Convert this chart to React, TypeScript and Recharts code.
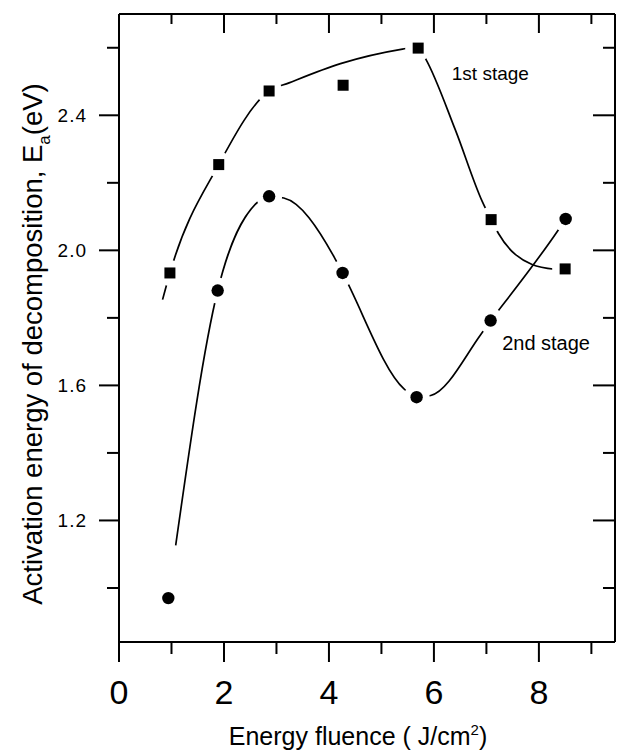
import React from "react";
import {
  ComposedChart,
  Line,
  Scatter,
  XAxis,
  YAxis,
  ReferenceDot,
} from "recharts";

// measured points
const stage1Points = [
  { x: 0.97, y: 1.933 },
  { x: 1.9, y: 2.254 },
  { x: 2.86, y: 2.472 },
  { x: 4.27, y: 2.489 },
  { x: 5.7, y: 2.599 },
  { x: 7.09, y: 2.091 },
  { x: 8.5, y: 1.945 },
];

const stage2Points = [
  { x: 0.94, y: 0.97 },
  { x: 1.88, y: 1.881 },
  { x: 2.86, y: 2.16 },
  { x: 4.26, y: 1.933 },
  { x: 5.67, y: 1.565 },
  { x: 7.08, y: 1.792 },
  { x: 8.51, y: 2.093 },
];

// hand drawn guide curves
const stage1Curve = [
  { x: 0.83, y: 1.854 },
  { x: 0.97, y: 1.933 },
  { x: 1.9, y: 2.254 },
  { x: 2.86, y: 2.472 },
  { x: 3.24, y: 2.496 },
  { x: 4.22, y: 2.553 },
  { x: 5.4, y: 2.596 },
  { x: 5.7, y: 2.603 },
  { x: 5.84, y: 2.568 },
  { x: 6.41, y: 2.356 },
  { x: 6.92, y: 2.145 },
  { x: 7.09, y: 2.091 },
  { x: 7.23, y: 2.05 },
  { x: 7.87, y: 1.958 },
  { x: 8.3, y: 1.944 },
];

const stage2Curve = [
  { x: 1.08, y: 1.126 },
  { x: 1.88, y: 1.881 },
  { x: 2.6, y: 2.137 },
  { x: 2.86, y: 2.16 },
  { x: 3.14, y: 2.155 },
  { x: 4.1, y: 1.98 },
  { x: 4.26, y: 1.933 },
  { x: 5.43, y: 1.59 },
  { x: 5.67, y: 1.565 },
  { x: 5.94, y: 1.57 },
  { x: 6.89, y: 1.75 },
  { x: 7.08, y: 1.792 },
  { x: 7.24, y: 1.824 },
  { x: 8.35, y: 2.056 },
  { x: 8.51, y: 2.093 },
];

const xTicks = [0, 1, 2, 3, 4, 5, 6, 7, 8, 9];
const yTicks = [1.0, 1.2, 1.4, 1.6, 1.8, 2.0, 2.2, 2.4, 2.6];

const annotations = [
  { x: 6.34, y: 2.505, text: "1st stage", size: 19 },
  { x: 7.3, y: 1.705, text: "2nd stage", size: 20 },
];

const FONT = "Arial, 'Liberation Sans', Helvetica, sans-serif";

const isMajorX = (v: number) => v % 2 === 0;
const isMajorY = (v: number) => Math.round(v * 10) % 4 === 0;

const BottomTick = (props: any) => {
  const { x, y, payload } = props;
  const major = isMajorX(payload.value);
  return (
    <g>
      <line x1={x} x2={x} y1={y} y2={y + (major ? 20 : 12)} stroke="#000" strokeWidth={2} />
      {major && (
        <text x={x} y={y + 62} textAnchor="middle" fontSize={34} fontFamily={FONT} fill="#000">
          {payload.value}
        </text>
      )}
    </g>
  );
};

const TopTick = (props: any) => {
  const { x, y, payload } = props;
  const major = isMajorX(payload.value);
  return <line x1={x} x2={x} y1={y} y2={y + (major ? 19 : 10)} stroke="#000" strokeWidth={2} />;
};

const LeftTick = (props: any) => {
  const { x, y, payload } = props;
  const major = isMajorY(payload.value);
  return (
    <g>
      <line x1={x - (major ? 20 : 12)} x2={x} y1={y} y2={y} stroke="#000" strokeWidth={2} />
      {major && (
        <text x={x - 32} y={y} dy="0.36em" textAnchor="end" fontSize={19} letterSpacing={1}
          fontFamily={FONT} fill="#000">
          {payload.value.toFixed(1)}
        </text>
      )}
    </g>
  );
};

const RightTick = (props: any) => {
  const { x, y, payload } = props;
  const major = isMajorY(payload.value);
  return <line x1={x - (major ? 22 : 12)} x2={x} y1={y} y2={y} stroke="#000" strokeWidth={2} />;
};

const XTitle = (props: any) => {
  const vb = props.viewBox;
  return (
    <text x={vb.x + vb.width / 2 - 9} y={vb.y + 103} textAnchor="middle" fontSize={25}
      fontFamily={FONT} fill="#000">
      Energy fluence ( J/cm
      <tspan dy={-10} fontSize={15}>2</tspan>
      <tspan dy={10}>)</tspan>
    </text>
  );
};

const YTitle = (props: any) => {
  const vb = props.viewBox;
  const cx = vb.x + 42;
  const cy = vb.y + vb.height / 2 + 16;
  return (
    <text x={cx} y={cy} transform={`rotate(-90, ${cx}, ${cy})`} textAnchor="middle"
      fontSize={27.5} fontFamily={FONT} fill="#000">
      Activation energy of decomposition, E
      <tspan dy={7.5} fontSize={17}>a</tspan>
      <tspan dy={-7.5}>(eV)</tspan>
    </text>
  );
};

const SquareMark = (p: any) => (
  <g>
    <circle cx={p.cx} cy={p.cy} r={13} fill="#fff" />
    <rect x={p.cx - 5.5} y={p.cy - 5.5} width={11} height={11} fill="#000" />
  </g>
);

const CircleMark = (p: any) => (
  <g>
    <circle cx={p.cx} cy={p.cy} r={13} fill="#fff" />
    <circle cx={p.cx} cy={p.cy} r={6.2} fill="#000" />
  </g>
);

const axisLine = { stroke: "#000", strokeWidth: 2 };

export default function App() {
  return (
    <div style={{ position: "absolute", left: 0, top: 0, background: "#fff" }}>
      <ComposedChart width={617} height={750} margin={{ top: 0, right: 0, bottom: 0, left: 0 }}>
        <XAxis xAxisId="b" type="number" dataKey="x" domain={[0, 9.45]} allowDataOverflow
          ticks={xTicks} interval={0} height={108} tickSize={0} tickMargin={0} tickLine={false}
          axisLine={axisLine} tick={<BottomTick />} label={<XTitle />} />
        <XAxis xAxisId="t" orientation="top" type="number" dataKey="x" domain={[0, 9.45]}
          allowDataOverflow ticks={xTicks} interval={0} height={14} tickSize={0} tickMargin={0}
          tickLine={false} axisLine={axisLine} tick={<TopTick />} />
        <YAxis yAxisId="l" type="number" dataKey="y" domain={[0.84, 2.7]} allowDataOverflow
          ticks={yTicks} interval={0} width={119} tickSize={0} tickMargin={0} tickLine={false}
          axisLine={axisLine} tick={<LeftTick />} label={<YTitle />} />
        <YAxis yAxisId="r" orientation="right" type="number" dataKey="y" domain={[0.84, 2.7]}
          allowDataOverflow ticks={yTicks} interval={0} width={2} tickSize={0} tickMargin={0}
          tickLine={false} axisLine={axisLine} tick={<RightTick />} />

        <Line xAxisId="b" yAxisId="l" data={stage1Curve} dataKey="y" type="monotone"
          stroke="#000" strokeWidth={1.7} dot={false} activeDot={false} isAnimationActive={false} />
        <Line xAxisId="b" yAxisId="l" data={stage2Curve} dataKey="y" type="monotone"
          stroke="#000" strokeWidth={1.7} dot={false} activeDot={false} isAnimationActive={false} />

        <Scatter xAxisId="b" yAxisId="l" data={stage1Points} dataKey="y" shape={SquareMark}
          isAnimationActive={false} />
        <Scatter xAxisId="b" yAxisId="l" data={stage2Points} dataKey="y" shape={CircleMark}
          isAnimationActive={false} />

        {annotations.map((a) => (
          <ReferenceDot key={a.text} xAxisId="b" yAxisId="l" x={a.x} y={a.y} r={0}
            shape={(p: any) => (
              <text x={p.cx} y={p.cy} fontSize={a.size} fontFamily={FONT} fill="#000">
                {a.text}
              </text>
            )} />
        ))}
      </ComposedChart>
    </div>
  );
}
